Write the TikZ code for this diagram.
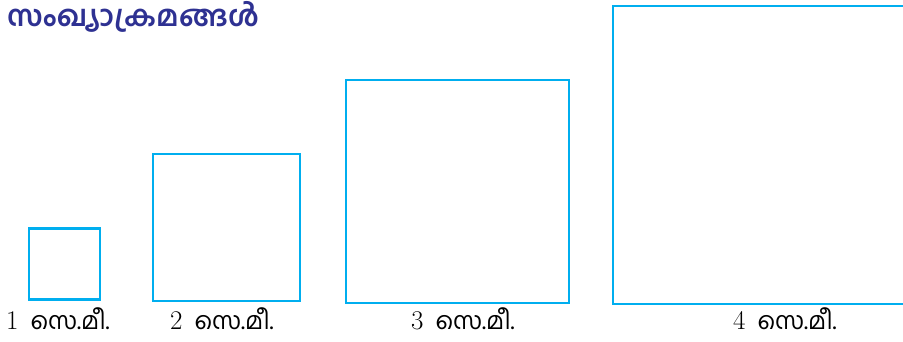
\documentclass[tikz,border=0pt]{standalone}
\usepackage{fontspec}
\usepackage{tikz}
\newfontfamily\mlfont[Script=Malayalam]{Hind Kochi}
\definecolor{sqblue}{HTML}{00AEEF}
\definecolor{titleblue}{HTML}{2E3192}
\newcommand{\cm}{\hspace{12pt}{\mlfont\fontsize{24}{26}\selectfont സെ.മീ.}}

\begin{document}
\begin{tikzpicture}[x=1pt,y=-1pt,
  sq/.style={draw=sqblue,line width=2.5pt,inner sep=0pt,outer sep=0pt},
  lab/.style={inner sep=0pt,anchor=base west,font=\fontsize{27}{29}\selectfont}]
\useasboundingbox (0,0) rectangle (903,342);
\node [anchor=base west,inner sep=0pt,text=titleblue,font=\mlfont\bfseries\fontsize{29}{31}\selectfont] (title) at (7,27) {സംഖ്യാക്രമങ്ങൾ};
\node [sq,minimum size=71pt] (sqa) at (64.5,264) {};
\node [sq,minimum size=147pt] (sqb) at (226.5,227.5) {};
\node [sq,minimum size=223pt] (sqc) at (457.5,191.5) {};
\node [sq,minimum size=298pt] (sqd) at (762,155) {};
\node [lab] (laba) at (6,329) {1\cm};
\node [lab] (labb) at (170,329) {2\cm};
\node [lab] (labc) at (411,329) {3\cm};
\node [lab] (labd) at (733,329) {4\cm};
\end{tikzpicture}
\end{document}
